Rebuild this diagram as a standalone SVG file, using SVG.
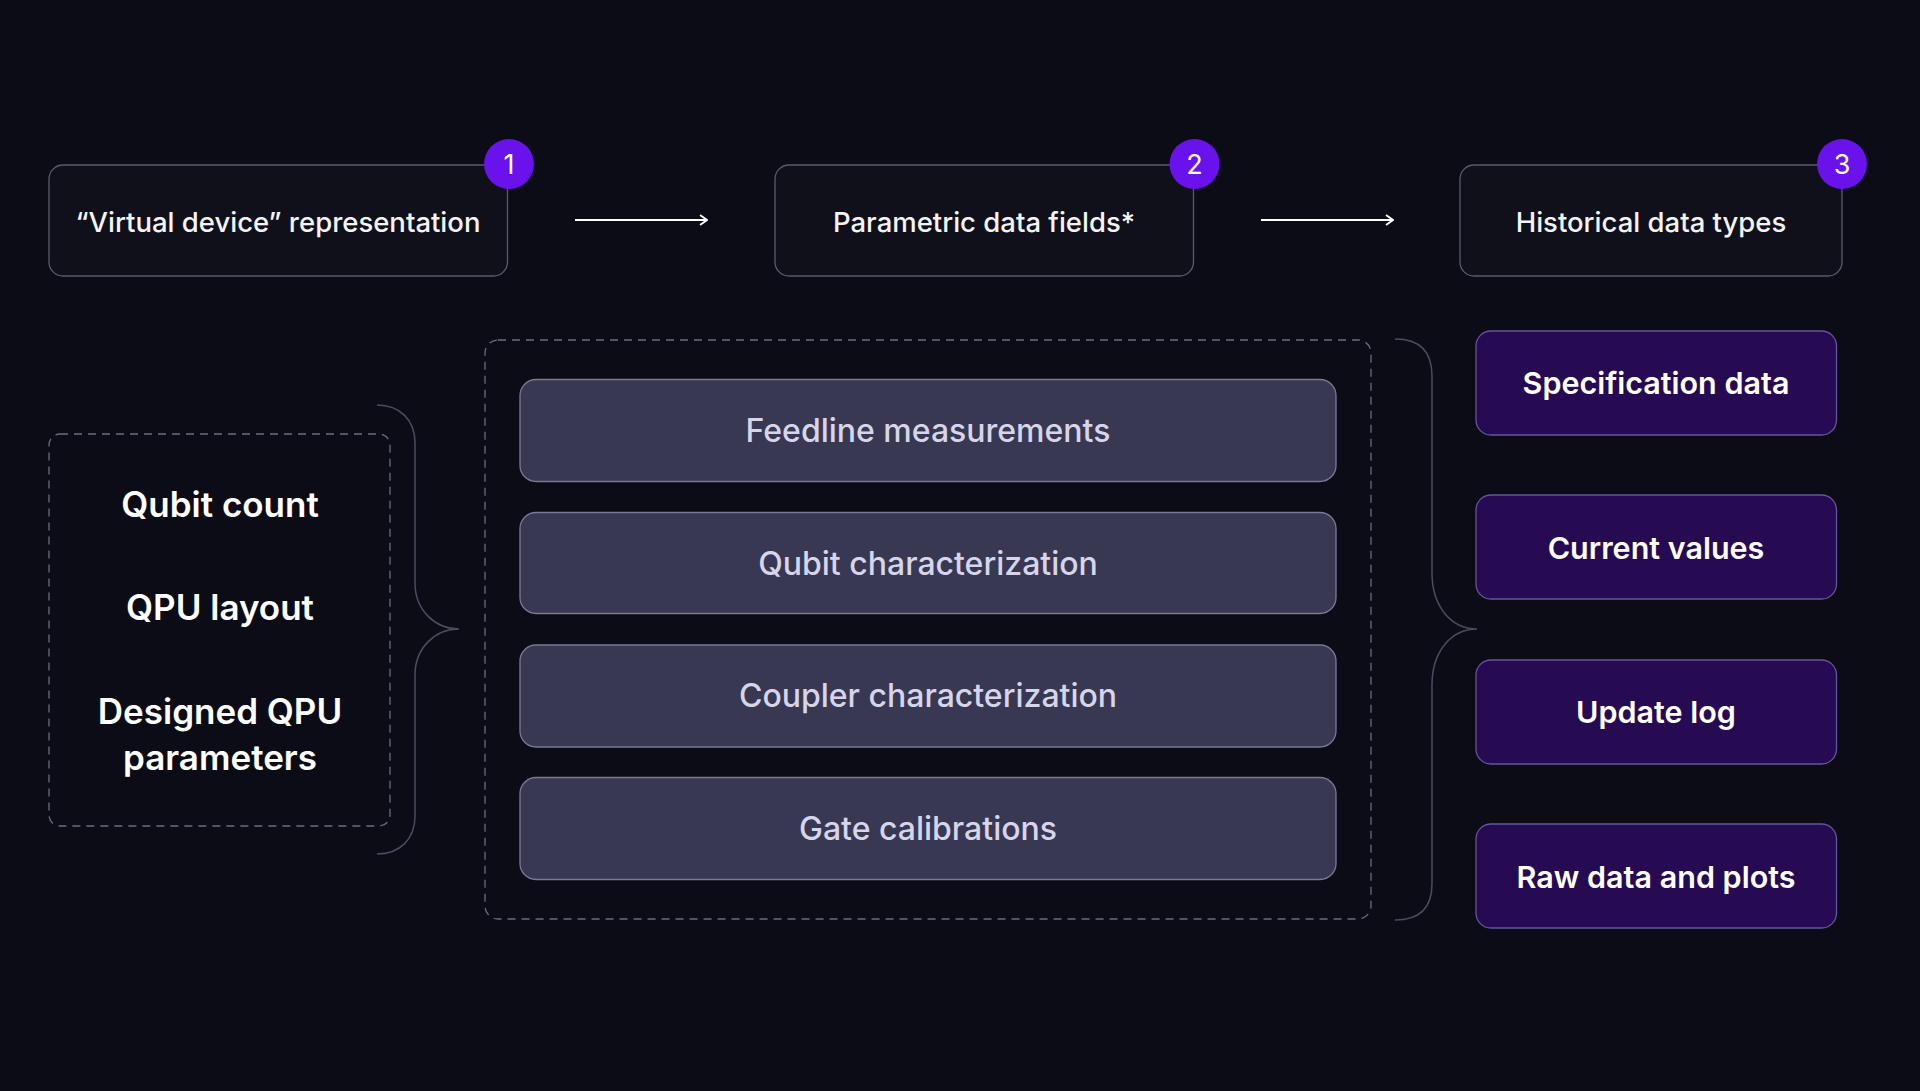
<svg xmlns="http://www.w3.org/2000/svg" width="1920" height="1091" viewBox="0 0 1920 1091">
<defs>
<style>
.bg{fill:#0c0c16}
.top{fill:#10101b;stroke:#5b5a6f;stroke-width:1.3}
.badge{fill:#6a12ec}
.badgeT{font-family:Inter,"Liberation Sans",sans-serif;font-size:27px;font-weight:400;fill:#ffffff;text-anchor:middle}
.topT{font-family:Inter,"Liberation Sans",sans-serif;font-size:27.5px;font-weight:500;fill:#f4f4f8;text-anchor:middle}
.dash{fill:none;stroke:#6b6b7e;stroke-width:1.3;stroke-dasharray:8 6}
.leftT{font-family:Inter,"Liberation Sans",sans-serif;font-size:35px;font-weight:600;fill:#ffffff;text-anchor:middle}
.gray{fill:#393852;stroke:#7a7998;stroke-width:1.3}
.grayT{font-family:Inter,"Liberation Sans",sans-serif;font-size:32px;font-weight:500;fill:#d6d5ea;text-anchor:middle}
.purple{fill:#260b52;stroke:#6555a0;stroke-width:1.3}
.purpleT{font-family:Inter,"Liberation Sans",sans-serif;font-size:30.5px;font-weight:600;fill:#ffffff;text-anchor:middle}
.brace{fill:none;stroke:#4c4b60;stroke-width:1.5}
.arrow{fill:none;stroke:#ffffff;stroke-width:2}
</style>
<marker id="chev" viewBox="0 0 12 12" refX="11" refY="6" markerWidth="12" markerHeight="12" markerUnits="userSpaceOnUse" orient="auto">
<path d="M4,1 L11,6 L4,11" fill="none" stroke="#ffffff" stroke-width="1.8"/>
</marker>
</defs>
<rect class="bg" x="0" y="0" width="1920" height="1091"/>

<g id="node-virtual-device">
<rect class="top" x="49" y="165" width="458.5" height="111" rx="14"/>
<circle class="badge" cx="509" cy="164" r="25"/>
<text class="badgeT" x="509" y="174">1</text>
<text class="topT" x="278" y="231.5">“Virtual device” representation</text>
</g>
<g id="node-parametric">
<rect class="top" x="775" y="165" width="418.5" height="111" rx="14"/>
<circle class="badge" cx="1194.5" cy="164" r="25"/>
<text class="badgeT" x="1194.5" y="174">2</text>
<text class="topT" x="984" y="231.5">Parametric data fields*</text>
</g>
<g id="node-historical">
<rect class="top" x="1460" y="165" width="382" height="111" rx="14"/>
<circle class="badge" cx="1842" cy="164" r="25"/>
<text class="badgeT" x="1842" y="174">3</text>
<text class="topT" x="1651" y="231.5">Historical data types</text>
</g>

<g id="node-device-info">
<rect class="dash" x="49" y="434" width="341" height="392" rx="11"/>
<text class="leftT" x="220" y="517">Qubit count</text>
<text class="leftT" x="220" y="620">QPU layout</text>
<text class="leftT" x="220" y="724">Designed QPU</text>
<text class="leftT" x="220" y="770">parameters</text>
</g>

<g id="node-fields">
<rect class="dash" x="485" y="340" width="886" height="579" rx="13"/>
<g id="node-feedline">
<rect class="gray" x="520" y="379.5" width="816" height="102" rx="16"/>
<text class="grayT" x="928" y="441.5">Feedline measurements</text>
</g>
<g id="node-qubit-char">
<rect class="gray" x="520" y="512.5" width="816" height="101" rx="16"/>
<text class="grayT" x="928" y="574.5">Qubit characterization</text>
</g>
<g id="node-coupler-char">
<rect class="gray" x="520" y="645" width="816" height="102" rx="16"/>
<text class="grayT" x="928" y="707">Coupler characterization</text>
</g>
<g id="node-gate-cal">
<rect class="gray" x="520" y="777.5" width="816" height="102" rx="16"/>
<text class="grayT" x="928" y="839.5">Gate calibrations</text>
</g>
</g>

<g id="node-spec">
<rect class="purple" x="1476" y="331" width="360.5" height="104" rx="15"/>
<text class="purpleT" x="1656" y="394">Specification data</text>
</g>
<g id="node-current">
<rect class="purple" x="1476" y="495" width="360.5" height="104" rx="15"/>
<text class="purpleT" x="1656" y="559">Current values</text>
</g>
<g id="node-update">
<rect class="purple" x="1476" y="660" width="360.5" height="104" rx="15"/>
<text class="purpleT" x="1656" y="723">Update log</text>
</g>
<g id="node-raw">
<rect class="purple" x="1476" y="824" width="360.5" height="104" rx="15"/>
<text class="purpleT" x="1656" y="888">Raw data and plots</text>
</g>

<g id="connectors">
<line class="arrow" x1="575" y1="220" x2="707" y2="220" marker-end="url(#chev)"/>
<line class="arrow" x1="1261" y1="220" x2="1393" y2="220" marker-end="url(#chev)"/>
<path class="brace" d="M377,405 C400,405 415,420 415,443 L415,583 C415,610 435,629 459,629 C435,629 415,648 415,675 L415,816 C415,839 400,854 377,854"/>
<path class="brace" d="M1395,339 C1420,339 1432,352 1432,376 L1432,573 C1432,605 1450,629 1477,629 C1450,629 1432,653 1432,685 L1432,884 C1432,908 1420,920 1395,920"/>
</g>
</svg>
